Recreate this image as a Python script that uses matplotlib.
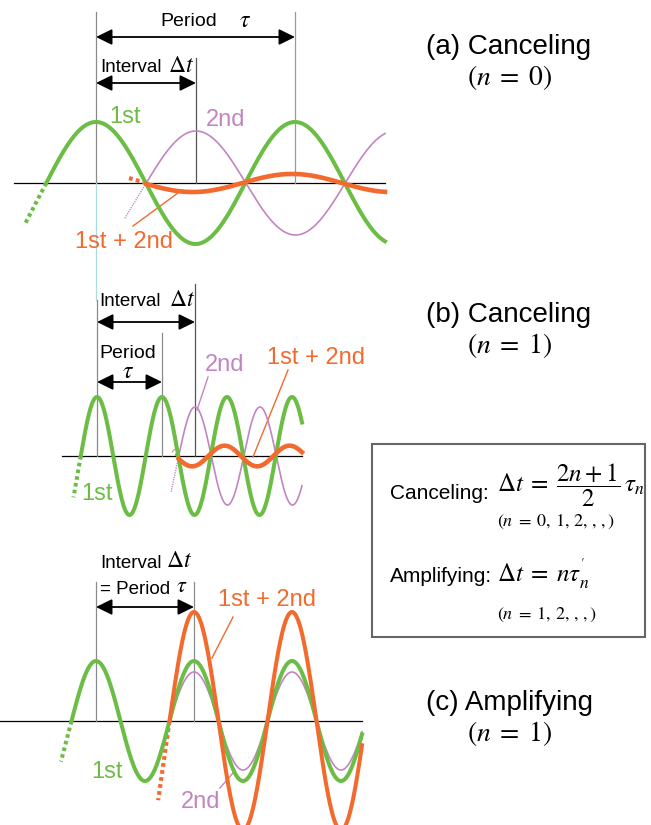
import numpy as np
import matplotlib.pyplot as plt
from matplotlib.patches import FancyArrowPatch, Rectangle

plt.rcParams['font.family'] = ['Liberation Sans', 'DejaVu Sans']
plt.rcParams['mathtext.fontset'] = 'stix'

GREEN = '#6cbd45'
PURPLE = '#c285c2'
ORANGE = '#f26a2e'

# one entry per panel (a), (b), (c); everything in figure pixels
baseline_y = [183, 456, 721]
axis_x = [(14, 385), (62, 302), (0, 362)]
period_px = [199, 65, 98]
peak1_x = [96, 97, 96]
peak2_x = [196, 195, 194]
amp1 = [61, 59, 60]
amp2 = [52, 49, 49]
# length of the dotted lead-in drawn before each wave starts
lead1 = [48, 42, 42]
lead2 = [42, 37, 40]
lead_sum = [20, 8, 80]

titles = ['(a) Canceling', '(b) Canceling', '(c) Amplifying']
n_labels = [r'$(n\;=\;0)$', r'$(n\;=\;1)$', r'$(n\;=\;1)$']
title_y = [47, 315, 703]

fig = plt.figure(figsize=(6.51, 8.25), dpi=100)
ax = fig.add_axes([0, 0, 1, 1])
ax.set_xlim(0, 651)
ax.set_ylim(825, 0)
ax.axis('off')


def wave(x, peak, period, amp, base):
    return base - amp * np.cos(2 * np.pi * (x - peak) / period)


def slope(x, peak, period, amp):
    return amp * 2 * np.pi / period * np.sin(2 * np.pi * (x - peak) / period)


def lead_in(x0, y0, dydx, length, color, lw):
    d = np.array([-1.0, -dydx])
    d = d / np.hypot(*d) * length
    ax.plot([x0, x0 + d[0]], [y0, y0 + d[1]], color=color, lw=lw,
            dashes=(0.9, 0.8), solid_capstyle='butt', dash_capstyle='butt')


for i in range(3):
    base = baseline_y[i]
    P = period_px[i]
    x_end = axis_x[i][1]
    ax.plot(axis_x[i], [base, base], color='black', lw=0.9, zorder=1)

    s1 = peak1_x[i] - P / 4
    s2 = peak2_x[i] - P / 4
    x1 = np.linspace(s1, x_end, 600)
    x2 = np.linspace(s2, x_end, 600)
    y1 = wave(x1, peak1_x[i], P, amp1[i], base)
    y2 = wave(x2, peak2_x[i], P, amp2[i], base)
    ysum = wave(x2, peak1_x[i], P, amp1[i], base) + y2 - base

    ax.plot(x2, y2, color=PURPLE, lw=1.2, zorder=3)
    ax.plot(x1, y1, color=GREEN, lw=2.9, zorder=4)
    ax.plot(x2, ysum, color=ORANGE, lw=3.3 if i < 2 else 2.9, zorder=5)

    lead_in(s1, base, slope(s1, peak1_x[i], P, amp1[i]), lead1[i], GREEN, 2.9)
    lead_in(s2, base, slope(s2, peak2_x[i], P, amp2[i]), lead2[i], PURPLE, 1.0)
    k = slope(s2, peak1_x[i], P, amp1[i]) + slope(s2, peak2_x[i], P, amp2[i])
    lead_in(s2, base, k, lead_sum[i], ORANGE, 3.0)

    ax.text(509, title_y[i], titles[i], fontsize=20, ha='center', va='center')
    ax.text(510, title_y[i] + 31, n_labels[i], fontsize=20, ha='center', va='center')

# vertical guide lines: x, top, bottom, colour
guides = [(96, 12, 183, '#8a8a8a'), (196, 58, 183, '#555555'), (295, 12, 183, '#9a9a9a'),
          (96, 183, 300, '#a9dde2'),
          (97, 300, 456, '#8a8a8a'), (162, 333, 456, '#8a8a8a'), (195, 284, 456, '#555555'),
          (96, 582, 721, '#8a8a8a'), (194, 582, 721, '#8a8a8a')]
for gx, gt, gb, gc in guides:
    ax.plot([gx, gx], [gt, gb], color=gc, lw=0.9, zorder=2)

# double-headed arrows: y, x_from, x_to
arrows = [(37, 96, 295), (83, 96, 196), (322, 97, 195), (382, 97, 162), (607, 96, 194)]
for ay, xa, xb in arrows:
    ax.add_patch(FancyArrowPatch((xa, ay), (xb, ay),
                                 arrowstyle='<|-|>,head_length=0.65,head_width=0.32',
                                 mutation_scale=15, color='black', lw=1.3,
                                 shrinkA=0, shrinkB=0, zorder=6))

# arrow captions
ax.text(189, 21, 'Period', fontsize=14, ha='center', va='center')
ax.text(245, 21, r'$\tau$', fontsize=17, ha='center', va='center')
ax.text(100, 68, 'Interval', fontsize=13.5, ha='left', va='center')
ax.text(168, 66, r'$\Delta t$', fontsize=17, ha='left', va='center')

ax.text(99, 302, 'Interval', fontsize=13.5, ha='left', va='center')
ax.text(169, 300, r'$\Delta t$', fontsize=17, ha='left', va='center')
ax.text(128, 353, 'Period', fontsize=14, ha='center', va='center')
ax.text(128, 372, r'$\tau$', fontsize=17, ha='center', va='center')

ax.text(100, 563, 'Interval', fontsize=13.5, ha='left', va='center')
ax.text(166, 561, r'$\Delta t$', fontsize=17, ha='left', va='center')
ax.text(100, 590, '= Period', fontsize=13.5, ha='left', va='center')
ax.text(182, 586, r'$\tau$', fontsize=16, ha='center', va='center')

# wave labels with leader lines
ax.text(125, 117, '1st', fontsize=17, color=GREEN, ha='center', va='center')
ax.text(226, 120, '2nd', fontsize=17, color=PURPLE, ha='center', va='center')
ax.text(124, 242, '1st + 2nd', fontsize=17, color=ORANGE, ha='center', va='center')
ax.plot([133, 182], [226, 190], color=ORANGE, lw=1.0)

ax.text(225, 365, '2nd', fontsize=17, color=PURPLE, ha='center', va='center')
ax.plot([208, 197], [377, 410], color=PURPLE, lw=1.0)
ax.text(316, 358, '1st + 2nd', fontsize=17, color=ORANGE, ha='center', va='center')
ax.plot([288, 253], [370, 457], color=ORANGE, lw=1.0)
ax.text(97, 494, '1st', fontsize=17, color=GREEN, ha='center', va='center')

ax.text(267, 600, '1st + 2nd', fontsize=17, color=ORANGE, ha='center', va='center')
ax.plot([233, 212], [617, 658], color=ORANGE, lw=1.0)
ax.text(107, 772, '1st', fontsize=17, color=GREEN, ha='center', va='center')
ax.text(201, 802, '2nd', fontsize=17, color=PURPLE, ha='center', va='center')
ax.plot([220, 233], [788, 773], color=PURPLE, lw=1.0)

# condition box
ax.add_patch(Rectangle((372, 444), 273, 193, fill=False, edgecolor='#666666', lw=1.5))
ax.text(390, 499, 'Canceling:', fontsize=15, ha='left', va='baseline')
ax.text(497, 485, r'$\Delta t\;=\;\dfrac{2n+1}{2}\,\tau_n$', fontsize=18, ha='left', va='center')
ax.text(497, 522, r'$(n\;=\;0,\,1,\,2,\,,\,,)$', fontsize=13, ha='left', va='center')
ax.text(390, 582, 'Amplifying:', fontsize=15, ha='left', va='baseline')
ax.text(497, 583, r"$\Delta t\;=\;n\tau^{'}_{n}$", fontsize=18, ha='left', va='baseline')
ax.text(497, 615, r'$(n\;=\;1,\,2,\,,\,,)$', fontsize=13, ha='left', va='center')

fig.savefig('out.png', dpi=100)
